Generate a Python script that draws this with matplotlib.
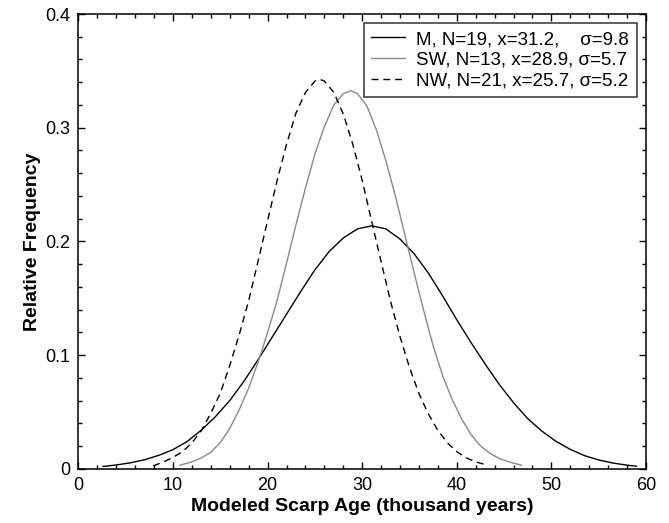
import matplotlib
matplotlib.use("Agg")
import matplotlib.pyplot as plt
from matplotlib.ticker import MultipleLocator, FuncFormatter

plt.rcParams['font.family'] = ['Liberation Sans', 'DejaVu Sans']

# M curve
m_x = [2.6, 4, 5.5, 7, 8.5, 10, 11.5, 13, 14.5, 16, 17.5, 19, 20.5, 22, 23.5,
       25, 26.5, 28, 29.5, 31, 32.5, 34, 35.5, 37, 38.5, 40, 41.5, 43, 44.5,
       46, 47.5, 49, 50.5, 52, 53.5, 55, 56.5, 58, 59]
m_y = [0.002, 0.0033, 0.0052, 0.0079, 0.0118, 0.0168, 0.024, 0.034, 0.046,
       0.060, 0.077, 0.096, 0.116, 0.136, 0.156, 0.175, 0.191, 0.203, 0.211,
       0.2137, 0.211, 0.202, 0.189, 0.172, 0.152, 0.131, 0.111, 0.092, 0.074,
       0.058, 0.044, 0.033, 0.024, 0.017, 0.0115, 0.0077, 0.005, 0.0031, 0.0022]

# SW curve
sw_x = [10.7, 12, 13, 14, 15, 16, 17, 18, 19, 20, 21, 22, 23, 24, 25, 26, 27,
        28, 28.8, 29.5, 30.5, 31.5, 32.5, 33.5, 34.5, 35.5, 36.5, 37.5, 38.5,
        39.5, 40.5, 41.5, 42.5, 43.5, 44.5, 45.5, 46.85]
sw_y = [0.003, 0.006, 0.0095, 0.0145, 0.023, 0.0355, 0.052, 0.071, 0.094,
        0.120, 0.148, 0.181, 0.2147, 0.247, 0.277, 0.301, 0.320, 0.330, 0.3325,
        0.330, 0.319, 0.298, 0.271, 0.240, 0.206, 0.172, 0.139, 0.108, 0.082,
        0.061, 0.044, 0.030, 0.020, 0.0135, 0.009, 0.006, 0.003]

# NW curve
nw_x = [7.9, 9, 10, 11, 12, 13, 14, 15, 16, 17, 18, 19, 20, 21, 22, 23, 24, 25,
        25.5, 26, 27, 28, 29, 30, 31, 32, 33, 34, 35, 36, 37, 38, 39, 40, 41,
        42, 43]
nw_y = [0.0025, 0.006, 0.0100, 0.015, 0.0228, 0.0336, 0.049, 0.0665, 0.091,
        0.118, 0.148, 0.183, 0.2185, 0.2535, 0.2855, 0.313, 0.331, 0.341,
        0.3425, 0.341, 0.331, 0.312, 0.2855, 0.2535, 0.2175, 0.182, 0.147,
        0.116, 0.089, 0.066, 0.048, 0.0336, 0.0228, 0.015, 0.0096, 0.006, 0.0037]

labels = ['M, N=19, x=31.2,    \u03c3=9.8',
          'SW, N=13, x=28.9, \u03c3=5.7',
          'NW, N=21, x=25.7, \u03c3=5.2']

fig = plt.figure(figsize=(6.69, 5.23), dpi=100)
ax = fig.add_axes([0.1173, 0.1038, 0.8483, 0.8694])

ax.plot(m_x, m_y, color='black', lw=1.0, label=labels[0])
ax.plot(sw_x, sw_y, color='#8a8a8a', lw=1.0, label=labels[1])
ax.plot(nw_x, nw_y, color='black', lw=1.0, ls=(0, (5, 3.5)), label=labels[2])

ax.set_xlim(0, 60)
ax.set_ylim(0, 0.4)
ax.xaxis.set_major_locator(MultipleLocator(10))
ax.xaxis.set_minor_locator(MultipleLocator(2))
ax.yaxis.set_major_locator(MultipleLocator(0.1))
ax.yaxis.set_minor_locator(MultipleLocator(0.02))
ax.yaxis.set_major_formatter(FuncFormatter(lambda v, p: '0' if abs(v) < 1e-9 else f'{v:.1f}'))
ax.tick_params(which='both', direction='in', top=True, right=True, labelsize=13, pad=6)
ax.tick_params(which='major', length=5, width=1)
ax.tick_params(which='minor', length=3, width=1)
for s in ax.spines.values():
    s.set_linewidth(1.1)

ax.set_xlabel('Modeled Scarp Age (thousand years)', fontsize=14, fontweight='bold', labelpad=3)
ax.set_ylabel('Relative Frequency', fontsize=14, fontweight='bold', labelpad=3)

leg = ax.legend(loc='upper right', fontsize=13.5, frameon=True, fancybox=False,
                edgecolor='black', handlelength=1.8, handletextpad=0.6,
                labelspacing=0.2, borderpad=0.4, borderaxespad=0.5)
leg.get_frame().set_linewidth(1.1)

fig.savefig('out.png', dpi=100)
